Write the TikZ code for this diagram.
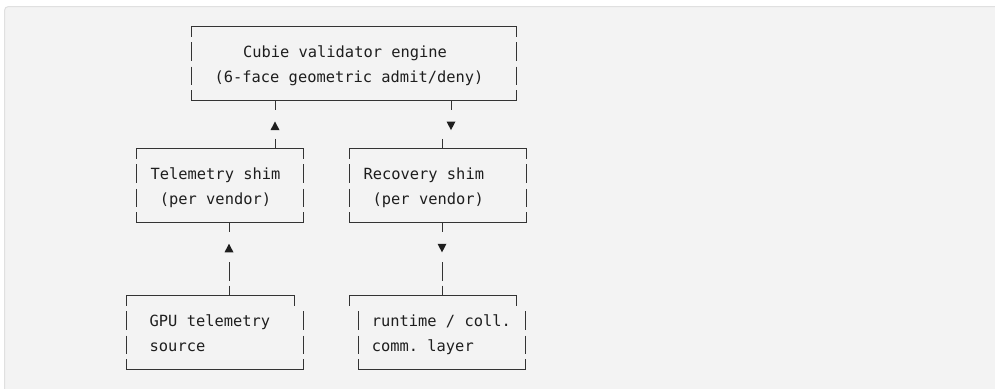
\documentclass[tikz,border=0pt]{standalone}
\usepackage{fontspec}
\setmonofont{DejaVu Sans Mono}

\definecolor{codebg}{HTML}{F3F3F3}
\definecolor{codeframe}{HTML}{E0E0E0}
\definecolor{ink}{HTML}{1E1E1E}
\definecolor{rule}{HTML}{333333}

% vertical position of text row #1 (one row = one line of the listing)
\newcommand\rowy[1]{(26.7+24.45*(#1))}

\tikzset{
  lbl/.style={font=\ttfamily\fontsize{15.4}{18}\selectfont, text=ink, inner sep=0pt, anchor=base},
  lblw/.style={lbl, anchor=base west},
  edge/.style={draw=rule, line width=0.95pt, line join=miter},
  tip/.style={fill=ink, draw=none},
}

% box drawn with box-drawing pieces:
% #1,#2 top corners x; #3,#4 side bars x; #5,#6 bottom corners x; #7 top row
\newcommand\asciibox[7]{%
  \draw[edge] (#1,{\rowy{#7}+10}) -- (#1,{\rowy{#7}}) -- (#2,{\rowy{#7}}) -- (#2,{\rowy{#7}+10});
  \foreach \k in {1,2} {
    \draw[edge] (#3,{\rowy{#7+\k}-9}) -- (#3,{\rowy{#7+\k}+9.5});
    \draw[edge] (#4,{\rowy{#7+\k}-9}) -- (#4,{\rowy{#7+\k}+9.5});
  }
  \draw[edge] (#5,{\rowy{#7+3}-10}) -- (#5,{\rowy{#7+3}}) -- (#6,{\rowy{#7+3}}) -- (#6,{\rowy{#7+3}-10});
}

% small solid triangles
\newcommand\uptip[2]{\fill[tip] ({#1-4.5},{#2+4.3}) -- ({#1+4.5},{#2+4.3}) -- (#1,{#2-4.3}) -- cycle;}
\newcommand\downtip[2]{\fill[tip] ({#1-4.5},{#2-4.3}) -- ({#1+4.5},{#2-4.3}) -- (#1,{#2+4.3}) -- cycle;}

\begin{document}
\begin{tikzpicture}[x=1pt,y=-1pt]
\useasboundingbox (0,0) rectangle (995,388);
\fill[white] (0,0) rectangle (995,388);
\filldraw[draw=codeframe, fill=codebg, line width=1pt, rounded corners=4pt] (4.5,6.5) rectangle (1010,400);

% boxes
\asciibox{191.7}{516}{191.7}{516}{191.7}{516}{0}
\asciibox{136}{303}{136}{303}{136}{303}{5}
\asciibox{349}{526}{349}{526}{349}{526}{5}
\asciibox{126.7}{294}{126.7}{303.3}{126.7}{303.3}{11}
\asciibox{349.3}{516}{358.3}{525}{358.3}{525}{11}

% labels
\node[lbl]  (eng1) at (345,{\rowy{1}+6.5}) {Cubie validator engine};
\node[lbl]  (eng2) at (349,{\rowy{2}+6.5}) {(6-face geometric admit/deny)};
\node[lbl]  (tel1) at (215.5,{\rowy{6}+6.5}) {Telemetry shim};
\node[lbl]  (tel2) at (215.5,{\rowy{7}+6.5}) {(per vendor)};
\node[lbl]  (rec1) at (423.8,{\rowy{6}+6.5}) {Recovery shim};
\node[lbl]  (rec2) at (428.3,{\rowy{7}+6.5}) {(per vendor)};
\node[lblw] (gpu1) at (149.5,{\rowy{12}+6.5}) {GPU telemetry};
\node[lblw] (gpu2) at (149.5,{\rowy{13}+6.5}) {source};
\node[lblw] (rt1)  at (371.6,{\rowy{12}+6.5}) {runtime / coll.};
\node[lblw] (rt2)  at (371.6,{\rowy{13}+6.5}) {comm. layer};

% telemetry shim -> engine
\draw[edge] (275,{\rowy{3}}) -- (275,{\rowy{3}+10});
\uptip{275}{\rowy{4}+1.3}
\draw[edge] (275,{\rowy{5}-10}) -- (275,{\rowy{5}});

% engine -> recovery shim
\draw[edge] (451,{\rowy{3}}) -- (451,{\rowy{3}+10});
\downtip{451}{\rowy{4}+1.3}
\draw[edge] (442,{\rowy{5}-10}) -- (442,{\rowy{5}});

% GPU telemetry source -> telemetry shim
\draw[edge] (229,{\rowy{8}}) -- (229,{\rowy{8}+10});
\uptip{229}{\rowy{9}+1.3}
\draw[edge] (229,{\rowy{10}-9}) -- (229,{\rowy{10}+9.5});
\draw[edge] (229,{\rowy{11}-10}) -- (229,{\rowy{11}});

% recovery shim -> runtime layer
\draw[edge] (442,{\rowy{8}}) -- (442,{\rowy{8}+10});
\downtip{442}{\rowy{9}+1.3}
\draw[edge] (442,{\rowy{10}-9}) -- (442,{\rowy{10}+9.5});
\draw[edge] (442,{\rowy{11}-10}) -- (442,{\rowy{11}});
\end{tikzpicture}
\end{document}
